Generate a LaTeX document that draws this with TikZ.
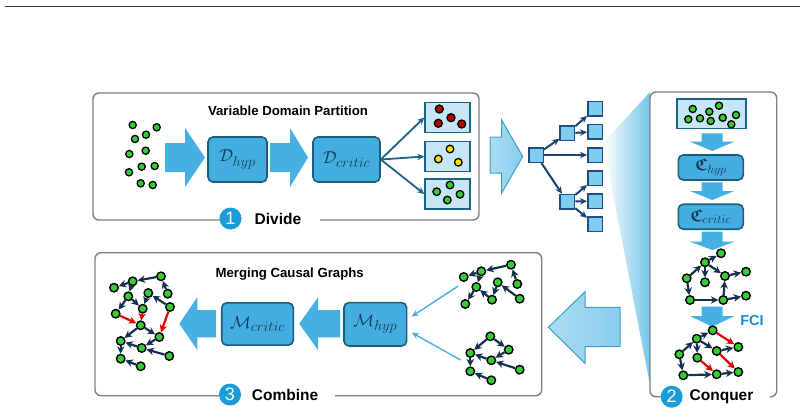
\documentclass[tikz,border=0pt]{standalone}
\usepackage{amsmath}
\usepackage{amssymb}
\usepackage{fontspec}
\setmainfont{Liberation Sans}
\usetikzlibrary{arrows.meta}

\definecolor{boxblue}{HTML}{45AEE0}
\definecolor{boxline}{HTML}{1B5E7B}
\definecolor{mathblue}{HTML}{123A55}
\definecolor{paleblue}{HTML}{C6E6F6}
\definecolor{arrowblue}{HTML}{47B0E2}
\definecolor{navy}{HTML}{14304E}
\definecolor{badgeblue}{HTML}{1A9CD8}
\definecolor{framegray}{HTML}{7F7F7F}
\definecolor{dotgreen}{HTML}{35CC35}
\definecolor{dotred}{HTML}{B30000}
\definecolor{dotyellow}{HTML}{F5E500}
\definecolor{treefill}{HTML}{7FCDEE}
\definecolor{treeline}{HTML}{1F4E85}
\definecolor{splitteal}{HTML}{1D6385}
\definecolor{fciblue}{HTML}{1A8FD6}

\tikzset{
  stage/.style={draw=framegray, line width=1.4pt, rounded corners=6pt, fill=white},
  agent/.style={draw=boxline, line width=1.6pt, rounded corners=5pt, fill=boxblue,
                text=mathblue, inner sep=0pt, font=\fontsize{19}{22}\selectfont},
  part/.style={draw=splitteal, line width=1.4pt, fill=paleblue, inner sep=0pt,
               minimum width=45pt, minimum height=30pt},
  leaf/.style={draw=treeline, line width=1.5pt, fill=treefill, minimum size=14.5pt, inner sep=0pt},
  vtx/.style={circle, draw=black, line width=1.4pt, fill=dotgreen, minimum size=8.5pt, inner sep=0pt},
  dot/.style={draw=black, line width=1.3pt, fill=dotgreen},
  edg/.style={draw=navy, line width=2.2pt, -{Stealth[length=7.5pt,width=7.5pt]}},
  redg/.style={draw=red!90!black, line width=2.2pt, -{Stealth[length=7.5pt,width=7.5pt]}},
  split/.style={draw=splitteal, line width=1.8pt, -{Stealth[length=7pt,width=6.5pt]}},
  branch/.style={draw=treeline!85!black, line width=2pt, -{Stealth[length=7pt,width=6.5pt]}},
  feed/.style={draw=arrowblue, line width=1.4pt, -{Stealth[length=7pt,width=6pt]}},
  bigarrow/.style={fill=arrowblue},
  fatarrow/.style={draw=arrowblue!90!black, line width=1pt, left color=arrowblue!45, right color=arrowblue!65},
  badge/.style={circle, fill=badgeblue, text=white, minimum size=22pt, inner sep=0pt,
                font=\fontsize{18}{18}\selectfont},
  steptxt/.style={fill=white, inner xsep=19pt, inner ysep=2pt, font=\bfseries\fontsize{15.5}{17}\selectfont},
  heading/.style={font=\bfseries\fontsize{13.2}{15}\selectfont}
}

\begin{document}
\begin{tikzpicture}[x=1pt, y=-1pt]
\useasboundingbox (0,0) rectangle (805,417);

%% page rule
\draw[line width=1.5pt, black!80] (5,6.5) -- (800,6.5);

%% funnel towards the conquer stage
\shade[left color=white, right color=arrowblue!75] (603,143) -- (650,92) -- (650,385) -- cycle;

%% stage frames
\draw[stage] (93,93) rectangle (479,220);       %% divide
\draw[stage] (650,92) rectangle (776.7,396.7);  %% conquer
\draw[stage] (95,252.7) rectangle (541.7,395.7); %% combine

%% divide
\node (vdp) [heading] at (288,111) {Variable Domain Partition};

\draw[dot] (132.7,125) circle (3.6pt);
\draw[dot] (156.7,127.3) circle (3.6pt);
\draw[dot] (146,134.7) circle (3.6pt);
\draw[dot] (135,139) circle (3.6pt);
\draw[dot] (129.3,154) circle (3.6pt);
\draw[dot] (145.7,150.7) circle (3.6pt);
\draw[dot] (141.7,166.7) circle (3.6pt);
\draw[dot] (154.7,166) circle (3.6pt);
\draw[dot] (129,172.3) circle (3.6pt);
\draw[dot] (140.7,183.3) circle (3.6pt);
\draw[dot] (152.7,185) circle (3.6pt);

\fill[bigarrow] (165,143) -- (185,143) -- (185,128) -- (205,157.5) -- (185,187) -- (185,172) -- (165,172) -- cycle;
\node (dhyp) [agent, minimum width=59pt, minimum height=45pt] at (237.5,159.5) {$\mathcal{D}_{hyp}$};
\fill[bigarrow] (270,143) -- (290,143) -- (290,128) -- (308,157.5) -- (290,187) -- (290,172) -- (270,172) -- cycle;
\node (dcrit) [agent, minimum width=67pt, minimum height=45pt] at (346.5,159.5) {$\mathcal{D}_{critic}$};

\node (p1) [part] at (447.5,117.5) {};
\node (p2) [part] at (447.5,156.5) {};
\node (p3) [part] at (447.5,194) {};
\draw[split] (dcrit.east) -- (p1.west);
\draw[split] (dcrit.east) -- (p2.west);
\draw[split] (dcrit.east) -- (p3.west);

\draw[dot, fill=dotred] (439.3,109) circle (4pt);
\draw[dot, fill=dotred] (438.3,123.3) circle (4pt);
\draw[dot, fill=dotred] (451,117.7) circle (4pt);
\draw[dot, fill=dotred] (461.7,124) circle (4pt);
\draw[dot, fill=dotyellow] (450,149) circle (3.8pt);
\draw[dot, fill=dotyellow] (438.3,159) circle (3.8pt);
\draw[dot, fill=dotyellow] (458.3,162.3) circle (3.8pt);
\draw[dot] (450,185) circle (3.8pt);
\draw[dot] (436.7,191.7) circle (3.8pt);
\draw[dot] (460,194.3) circle (3.8pt);
\draw[dot] (447.3,200) circle (3.8pt);

\node (dividetxt) [steptxt] at (278,219) {Divide};
\node (one) [badge] at (230.5,218.5) {1};

%% recursive split
\draw[fatarrow] (490,137) -- (501.7,137) -- (501.7,120) -- (522.7,156.5) -- (501.7,193) -- (501.7,173) -- (490,173) -- cycle;

\node (root) [leaf] at (536,155) {};
\node (up) [leaf] at (567.3,133.3) {};
\node (lo) [leaf] at (567.3,201.7) {};
\node (l1) [leaf] at (595,109) {};
\node (l2) [leaf] at (595,131.7) {};
\node (l3) [leaf] at (595,155) {};
\node (l4) [leaf] at (595,178.3) {};
\node (l5) [leaf] at (595,201) {};
\node (l6) [leaf] at (595,224.3) {};
\draw[branch] (root) -- (up);
\draw[branch] (root) -- (l3);
\draw[branch] (root) -- (lo);
\draw[branch] (up) -- (l1);
\draw[branch] (up) -- (l2);
\draw[branch] (lo) -- (l4);
\draw[branch] (lo) -- (l5);
\draw[branch] (lo) -- (l6);

%% conquer
\node (cin) [part, minimum width=69pt, minimum height=29pt] at (711.3,113.7) {};
\draw[dot] (692.7,109) circle (3.6pt);
\draw[dot] (719,105.7) circle (3.6pt);
\draw[dot] (709.3,111.7) circle (3.6pt);
\draw[dot] (688.3,119.3) circle (3.6pt);
\draw[dot] (700,118.3) circle (3.6pt);
\draw[dot] (710.7,121) circle (3.6pt);
\draw[dot] (722.7,117.7) circle (3.6pt);
\draw[dot] (736,115) circle (3.6pt);
\draw[dot] (731.3,124.3) circle (3.6pt);

\fill[bigarrow] (701.7,133.3) -- (722.7,133.3) -- (722.7,141.7) -- (734.3,141.7) -- (712.2,151) -- (690,141.7) -- (701.7,141.7) -- cycle;
\node (chyp) [agent, minimum width=65pt, minimum height=25pt, font=\fontsize{17}{19}\selectfont] at (710.8,167.5) {$\boldsymbol{\mathfrak{C}}_{hyp}$};
\fill[bigarrow] (701.7,182.3) -- (722.7,182.3) -- (722.7,191) -- (734.3,191) -- (712.2,200) -- (690,191) -- (701.7,191) -- cycle;
\node (ccrit) [agent, minimum width=65pt, minimum height=25pt, font=\fontsize{17}{19}\selectfont] at (710.8,216.7) {$\boldsymbol{\mathfrak{C}}_{critic}$};
\fill[bigarrow] (701.7,231.7) -- (722.7,231.7) -- (722.7,241.7) -- (734.3,241.7) -- (712.2,250) -- (690,241.7) -- (701.7,241.7) -- cycle;

%% local graph
\node (qa) [vtx] at (721,253.3) {};
\node (qb) [vtx] at (705,262.3) {};
\node (qc) [vtx] at (686.7,278.3) {};
\node (qd) [vtx] at (705,282.3) {};
\node (qe) [vtx] at (725,276) {};
\node (qf) [vtx] at (746,271.7) {};
\node (qg) [vtx] at (690,300) {};
\node (qh) [vtx] at (723.3,300) {};
\node (qi) [vtx] at (746,295.7) {};
\draw[edg] (qb) -- (qa);
\draw[edg] (qc) -- (qb);
\draw[edg] (qb) -- (qd);
\draw[edg] (qb) -- (qe);
\draw[edg] (qe) -- (qf);
\draw[edg] (qc) -- (qg);
\draw[edg] (qg) -- (qh);
\draw[edg] (qh) -- (qe);
\draw[edg] (qh) -- (qi);

\fill[bigarrow] (701.7,306.7) -- (722.7,306.7) -- (722.7,316) -- (734.3,316) -- (712.2,326.7) -- (690,316) -- (701.7,316) -- cycle;
\node (fci) [font=\bfseries\fontsize{14.5}{16}\selectfont, text=fciblue] at (752,321) {FCI};

%% graph after FCI
\node (fa) [vtx] at (712.7,330.3) {};
\node (fb) [vtx] at (696.7,338.7) {};
\node (fc) [vtx] at (679.3,354.3) {};
\node (fd) [vtx] at (697.3,357.7) {};
\node (fe) [vtx] at (716.7,351) {};
\node (ff) [vtx] at (738.3,347) {};
\node (fg) [vtx] at (683.3,375.3) {};
\node (fh) [vtx] at (716.7,374.3) {};
\node (fi) [vtx] at (738.3,372) {};
\draw[edg] (fb) -- (fa);
\draw[edg] (fc) -- (fb);
\draw[edg] (fb) -- (fd);
\draw[edg] (fb) -- (fe);
\draw[edg] (fe) -- (ff);
\draw[edg] (fc) -- (fg);
\draw[edg] (fg) -- (fh);
\draw[edg] (fh) -- (fi);
\draw[redg] (fa) -- (ff);
\draw[redg] (fd) -- (fh);
\draw[redg] (fe) -- (fi);

\node (conquertxt) [steptxt, inner xsep=17pt] at (721.5,396.7) {Conquer};
\node (two) [badge] at (671.7,396.7) {2};

%% combine
\draw[fatarrow] (548.3,327.3) -- (585,291.7) -- (585,307.3) -- (620,307.3) -- (620,346.7) -- (585,346.7) -- (585,363.3) -- cycle;

\node (mcg) [heading] at (289.7,274) {Merging Causal Graphs};

%% sub graph 1
\node (sa) [vtx] at (463.7,277) {};
\node (sb) [vtx] at (481.3,271.3) {};
\node (sc) [vtx] at (511,264.7) {};
\node (sd) [vtx] at (476.3,287) {};
\node (se) [vtx] at (497.7,282.3) {};
\node (sf) [vtx] at (517.3,284) {};
\node (sg) [vtx] at (465.3,304) {};
\node (sh) [vtx] at (492,299.7) {};
\node (si) [vtx] at (519.7,298.7) {};
\draw[edg] (sb) -- (sa);
\draw[edg] (sc) -- (sb);
\draw[edg] (sf) -- (sc);
\draw[edg] (sb) -- (sd);
\draw[edg] (sd) -- (sg);
\draw[edg] (sh) -- (sd);
\draw[edg] (se) -- (sh);
\draw[edg] (si) -- (se);

%% sub graph 2
\node (ta) [vtx] at (490.3,336.3) {};
\node (tb) [vtx] at (508.7,349.7) {};
\node (tc) [vtx] at (470.3,353) {};
\node (td) [vtx] at (491.3,360.3) {};
\node (te) [vtx] at (519.7,369.7) {};
\node (tf) [vtx] at (470.3,371.3) {};
\node (tg) [vtx] at (491.3,380.3) {};
\draw[edg] (ta) -- (tc);
\draw[edg] (ta) -- (tb);
\draw[edg] (tb) -- (td);
\draw[edg] (td) -- (tc);
\draw[edg] (te) -- (td);
\draw[edg] (tc) -- (tf);
\draw[edg] (tg) -- (tf);

\node (mhyp) [agent, minimum width=62.7pt, minimum height=43.3pt] at (375.3,324.3) {$\mathcal{M}_{hyp}$};
\coordinate (s1) at (458.3,286);
\coordinate (s2) at (460.7,360);
\draw[feed, shorten >=5pt] (s1) -- ([yshift=5pt]mhyp.east);
\draw[feed, shorten >=5pt] (s2) -- ([yshift=-6pt]mhyp.east);

\fill[bigarrow] (299.3,323.7) -- (318,297.3) -- (318,310) -- (340,310) -- (340,337.3) -- (318,337.3) -- (318,350) -- cycle;
\node (mcrit) [agent, minimum width=71.6pt, minimum height=42.3pt] at (257.5,324) {$\mathcal{M}_{critic}$};
\fill[bigarrow] (179.3,323.7) -- (197.3,297.3) -- (197.3,310) -- (216,310) -- (216,337.3) -- (197.3,337.3) -- (197.3,350) -- cycle;

%% merged graph
\node (mg1) [vtx] at (114,287.7) {};
\node (mg2) [vtx] at (132.7,281.3) {};
\node (mg3) [vtx] at (161,276.3) {};
\node (mg4) [vtx] at (167.7,293.7) {};
\node (mg5) [vtx] at (148.3,293) {};
\node (mg6) [vtx] at (128.3,296.3) {};
\node (mg7) [vtx] at (115.7,313.7) {};
\node (mg8) [vtx] at (142.7,308.7) {};
\node (mg9) [vtx] at (170,307) {};
\node (mg10) [vtx] at (140.7,325.3) {};
\node (mg11) [vtx] at (159.3,337) {};
\node (mg12) [vtx] at (120.7,341) {};
\node (mg13) [vtx] at (141.7,348) {};
\node (mg14) [vtx] at (169.3,356) {};
\node (mg15) [vtx] at (120.7,358.7) {};
\node (mg16) [vtx] at (140.7,366.3) {};
\draw[edg] (mg2) -- (mg1);
\draw[edg] (mg3) -- (mg2);
\draw[edg] (mg4) -- (mg3);
\draw[edg] (mg2) -- (mg6);
\draw[edg] (mg6) -- (mg7);
\draw[edg] (mg6) -- (mg8);
\draw[edg] (mg9) -- (mg5);
\draw[edg] (mg5) -- (mg8);
\draw[redg] (mg7) -- (mg10);
\draw[redg] (mg8) -- (mg10);
\draw[redg] (mg9) -- (mg11);
\draw[edg] (mg10) -- (mg12);
\draw[edg] (mg10) -- (mg11);
\draw[edg] (mg11) -- (mg13);
\draw[edg] (mg13) -- (mg12);
\draw[edg] (mg14) -- (mg13);
\draw[edg] (mg12) -- (mg15);
\draw[edg] (mg16) -- (mg15);

\node (combinetxt) [steptxt, inner xsep=17pt] at (285,394.5) {Combine};
\node (three) [badge] at (230,394.5) {3};
\end{tikzpicture}
\end{document}
